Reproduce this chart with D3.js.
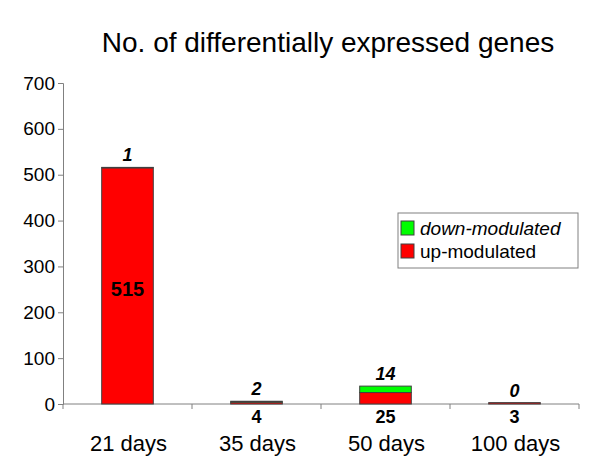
<!DOCTYPE html>
<html><head><meta charset="utf-8">
<script src="https://cdn.jsdelivr.net/npm/d3@7"></script>
<style>body{margin:0;background:#fff}svg{display:block}</style>
</head><body>
<svg id="c" width="600" height="466"></svg>
<script>
const categories = ["21 days", "35 days", "50 days", "100 days"];
const upModulated = [515, 4, 25, 3];
const downModulated = [1, 2, 14, 0];
const yTicks = [0, 100, 200, 300, 400, 500, 600, 700];
const seriesNames = ["down-modulated", "up-modulated"];

const svg = d3.select("#c");
const font = "Arial, 'Liberation Sans', sans-serif";
const x = d3.scaleBand().domain(categories).range([63, 579]).paddingInner(0).paddingOuter(0);
const y = d3.scaleLinear().domain([0, 700]).range([404, 83]);
const bw = x.bandwidth() * 0.4;

svg.append("text").attr("x", 328).attr("y", 52).attr("text-anchor", "middle")
  .style("font-family", font).style("font-size", "28px").text("No. of differentially expressed genes");

// y axis
const ya = svg.append("g").attr("transform", "translate(63,0)")
  .call(d3.axisLeft(y).tickValues(yTicks).tickSize(5).tickPadding(3));
ya.select(".domain").attr("stroke", "#808080");
ya.selectAll(".tick line").attr("stroke", "#808080");
ya.selectAll(".tick text").style("font-family", font).style("font-size", "19px").attr("fill", "#000");

// x axis
const xa = svg.append("g").attr("transform", "translate(0,404)");
xa.append("line").attr("x1", 63).attr("x2", 579).attr("stroke", "#808080");
const bounds = categories.map(c => x(c)).concat([x(categories[3]) + x.bandwidth()]);
xa.selectAll("line.t").data(bounds).join("line").attr("class", "t")
  .attr("x1", d => d).attr("x2", d => d).attr("y1", 0).attr("y2", 5).attr("stroke", "#808080");
xa.selectAll("text.cat").data(categories).join("text").attr("class", "cat")
  .attr("x", d => x(d) + x.bandwidth() / 2 + 1).attr("y", 47).attr("text-anchor", "middle")
  .style("font-family", font).style("font-size", "22px").text(d => d);

const data = categories.map((c, i) => ({ c, up: upModulated[i], down: downModulated[i] }));
const g = svg.append("g");
data.forEach(d => {
  const cx = x(d.c) + x.bandwidth() / 2;
  g.append("rect").attr("x", cx - bw / 2).attr("width", bw)
    .attr("y", y(d.up)).attr("height", y(0) - y(d.up))
    .attr("fill", "#FF0000").attr("stroke", "#404040").attr("stroke-width", 1);
  if (d.down > 0) {
    g.append("rect").attr("x", cx - bw / 2).attr("width", bw)
      .attr("y", y(d.up + d.down)).attr("height", y(d.up) - y(d.up + d.down))
      .attr("fill", "#00FF00").attr("stroke", "#404040").attr("stroke-width", 1);
  }
  // down label (top, bold italic)
  g.append("text").attr("x", cx).attr("y", y(d.up + d.down) - 6).attr("text-anchor", "middle")
    .style("font-family", font).style("font-size", "18px").style("font-weight", "bold").style("font-style", "italic")
    .text(d.down);
  // up label
  const inside = (y(0) - y(d.up)) > 40;
  g.append("text").attr("x", cx)
    .attr("y", inside ? (y(0) + y(d.up)) / 2 + 10 : y(0) + 19)
    .attr("text-anchor", "middle")
    .style("font-family", font).style("font-size", inside ? "20px" : "18px").style("font-weight", "bold")
    .text(d.up);
});

// legend
const lg = svg.append("g").attr("transform", "translate(398,213)");
lg.append("rect").attr("width", 180).attr("height", 55).attr("fill", "#fff").attr("stroke", "#808080");
const colors = ["#00FF00", "#FF0000"];
seriesNames.forEach((s, i) => {
  lg.append("rect").attr("x", 3).attr("y", 8 + i * 23).attr("width", 13).attr("height", 14)
    .attr("fill", colors[i]).attr("stroke", "#404040");
  lg.append("text").attr("x", 22).attr("y", 22 + i * 23)
    .style("font-family", font).style("font-size", "19px").style("font-style", i === 0 ? "italic" : "normal")
    .text(s);
});
</script>
</body></html>
